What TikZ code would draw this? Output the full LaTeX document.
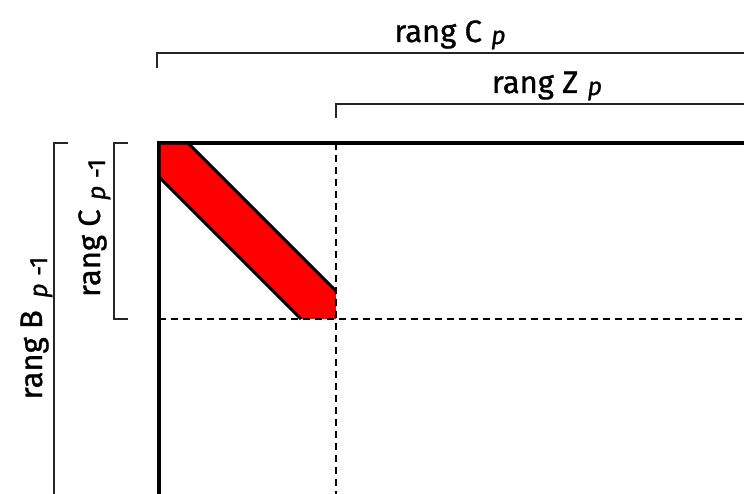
\documentclass[tikz,border=0pt]{standalone}
\usepackage{fontspec}
\setmainfont[FakeBold=1]{Fira Sans}
\newcommand\subp[2]{\raisebox{-#1}{\fontsize{25}{25}\selectfont #2}}
\begin{document}
\begin{tikzpicture}[x=1pt,y=-1pt,
  lbl/.style={font=\fontsize{31}{31}\selectfont, inner sep=0pt, anchor=base},
  brk/.style={line width=1.4pt, draw=black!85},
  thick border/.style={line width=4pt, line cap=rect},
  guide/.style={line width=1.3pt, dash pattern=on 7pt off 5pt},
  band/.style={fill=red, draw=none},
  bandedge/.style={line width=3pt}]
\useasboundingbox (0,0) rectangle (744,494);
\fill[white] (0,0) rectangle (744,494);

% red band
\coordinate (ua) at (188,143);
\coordinate (ub) at (336,291);
\coordinate (la) at (159,177);
\coordinate (lb) at (301,319);
\coordinate (rc) at (336,319);
\coordinate (tl) at (159,143);
\fill[band] (tl) -- (ua) -- (ub) -- (rc) -- (lb) -- (la) -- cycle;
\draw[bandedge] (ua) -- (ub);
\draw[bandedge] (la) -- (lb);

% dashed guides
\coordinate (vt) at (336,143);
\coordinate (vb) at (336,494);
\coordinate (hl) at (159,319);
\coordinate (hr) at (744,319);
\draw[guide] (vt) -- (vb);
\draw[guide] (hl) -- (hr);

% matrix border
\coordinate (tr) at (744,143);
\coordinate (bl) at (159,494);
\draw[thick border] (bl) -- (tl) -- (tr);

% top brackets
\coordinate (b1a) at (157,68);
\coordinate (b1b) at (157,53);
\coordinate (b1c) at (744,53);
\draw[brk] (b1a) -- (b1b) -- (b1c);
\node[lbl] (lc) at (450,42) {rang C\hspace{0.3em}\subp{2pt}{\itshape p}};

\coordinate (b2a) at (336,118);
\coordinate (b2b) at (336,104);
\coordinate (b2c) at (744,104);
\draw[brk] (b2a) -- (b2b) -- (b2c);
\node[lbl] (lz) at (547,93) {rang Z\hspace{0.3em}\subp{2pt}{\itshape p}};

% left brackets
\coordinate (b3a) at (68,143);
\coordinate (b3b) at (54,143);
\coordinate (b3c) at (54,494);
\draw[brk] (b3a) -- (b3b) -- (b3c);
\node[lbl, rotate=90] (lb1) at (42,328) {rang B\hspace{0.4em}\subp{5pt}{{\itshape p}\hspace{0.3em}-1}};

\coordinate (b4a) at (128,143);
\coordinate (b4b) at (114,143);
\coordinate (b4c) at (114,319);
\coordinate (b4d) at (128,319);
\draw[brk] (b4a) -- (b4b) -- (b4c) -- (b4d);
\node[lbl, rotate=90] (lc1) at (100,228) {rang C\hspace{0.3em}\subp{5pt}{{\itshape p}\hspace{0.3em}-1}};
\end{tikzpicture}
\end{document}
